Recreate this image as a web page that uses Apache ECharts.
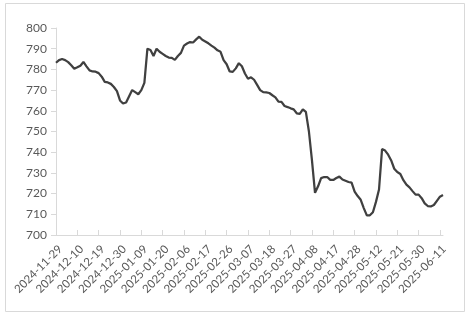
<!DOCTYPE html>
<html>
<head>
<meta charset="utf-8">
<script src="https://cdn.jsdelivr.net/npm/echarts@6/dist/echarts.min.js"></script>
<style>
html,body{margin:0;padding:0;background:#fff;}
#chart{width:470px;height:321px;}
</style>
</head>
<body>
<div id="chart"></div>
<script>
const dates = [
  "2024-11-29",
  "2024-12-02","2024-12-03","2024-12-04","2024-12-05","2024-12-06","2024-12-09","2024-12-10",
  "2024-12-11","2024-12-12","2024-12-13","2024-12-16","2024-12-17","2024-12-18","2024-12-19",
  "2024-12-20","2024-12-23","2024-12-24","2024-12-25","2024-12-26","2024-12-27","2024-12-30",
  "2024-12-31","2025-01-02","2025-01-03","2025-01-06","2025-01-07","2025-01-08","2025-01-09",
  "2025-01-10","2025-01-13","2025-01-14","2025-01-15","2025-01-16","2025-01-17","2025-01-20",
  "2025-01-21","2025-01-22","2025-01-23","2025-01-24","2025-01-27","2025-02-05","2025-02-06",
  "2025-02-07","2025-02-10","2025-02-11","2025-02-12","2025-02-13","2025-02-14","2025-02-17",
  "2025-02-18","2025-02-19","2025-02-20","2025-02-21","2025-02-24","2025-02-25","2025-02-26",
  "2025-02-27","2025-02-28","2025-03-03","2025-03-04","2025-03-05","2025-03-06","2025-03-07",
  "2025-03-10","2025-03-11","2025-03-12","2025-03-13","2025-03-14","2025-03-17","2025-03-18",
  "2025-03-19","2025-03-20","2025-03-21","2025-03-24","2025-03-25","2025-03-26","2025-03-27",
  "2025-03-28","2025-03-31","2025-04-01","2025-04-02","2025-04-03","2025-04-07","2025-04-08",
  "2025-04-09","2025-04-10","2025-04-11","2025-04-14","2025-04-15","2025-04-16","2025-04-17",
  "2025-04-18","2025-04-21","2025-04-22","2025-04-23","2025-04-24","2025-04-25","2025-04-28",
  "2025-04-29","2025-04-30","2025-05-06","2025-05-07","2025-05-08","2025-05-09","2025-05-12",
  "2025-05-13","2025-05-14","2025-05-15","2025-05-16","2025-05-19","2025-05-20","2025-05-21",
  "2025-05-22","2025-05-23","2025-05-26","2025-05-27","2025-05-28","2025-05-29","2025-05-30",
  "2025-06-03","2025-06-04","2025-06-05","2025-06-06","2025-06-09","2025-06-10","2025-06-11",
  "2025-06-12"
];

const values = [
  783.2,
  784.5, 785.0, 784.5, 783.5, 782.0, 780.3, 781.0,
  781.8, 783.6, 781.5, 779.5, 779.0, 778.9, 778.2,
  776.5, 774.0, 773.7, 773.0, 771.5, 769.5, 765.0,
  763.5, 764.0, 767.0, 770.0, 769.0, 768.0, 770.0,
  773.5, 790.0, 789.4, 786.5, 790.0, 788.5, 787.5,
  786.5, 785.7, 785.6, 784.6, 786.5, 788.0, 791.5,
  792.5, 793.2, 793.0, 794.5, 795.8, 794.3, 793.5,
  792.6, 791.5, 790.5, 789.2, 788.5, 784.5, 782.5,
  779.0, 778.8, 780.5, 783.0, 781.5, 778.0, 775.5,
  776.2, 775.0, 772.5, 770.0, 769.0, 768.9, 768.6,
  767.5, 766.5, 764.4, 764.3, 762.3, 761.8, 761.2,
  760.7, 758.8, 758.5, 760.7, 759.5, 750.0, 736.0,
  720.4, 723.5, 727.5, 728.0, 728.0, 726.6, 726.6,
  727.5, 728.2, 726.8, 726.2, 725.6, 725.3, 721.0,
  718.8, 717.0, 713.0, 709.5, 709.5, 711.0, 716.0,
  722.0, 741.5, 740.8, 738.8, 736.0, 732.0, 730.4,
  729.5, 726.5, 724.3, 723.0, 721.2, 719.5, 719.5,
  717.8, 715.3, 714.0, 713.8, 714.5, 716.5, 718.5,
  719.3
];

const yMin = 700, yMax = 800, yStep = 10;

const chart = echarts.init(document.getElementById('chart'), null, {renderer: 'canvas'});
const fontFam = 'Lato, "Liberation Sans", sans-serif';
chart.setOption({
  animation: false,
  backgroundColor: '#ffffff',
  graphic: [{
    type: 'rect',
    shape: {x: 5.5, y: 3.5, width: 459, height: 308},
    style: {fill: 'none', stroke: '#d9d9d9', lineWidth: 1},
    silent: true
  }],
  grid: {left: 56, right: 27, top: 28, bottom: 86, containLabel: false},
  xAxis: {
    type: 'category',
    data: dates,
    boundaryGap: false,
    axisLine: {show: true, lineStyle: {color: '#d9d9d9', width: 1}},
    axisTick: {show: true, interval: 6, inside: true, length: 5, lineStyle: {color: '#d9d9d9'}},
    axisLabel: {interval: 6, rotate: 45, fontSize: 11.5, color: '#595959', fontFamily: fontFam, margin: 8, verticalAlign: 'top', hideOverlap: false},
    splitLine: {show: false}
  },
  yAxis: {
    type: 'value',
    min: yMin, max: yMax, interval: yStep,
    axisLine: {show: true, lineStyle: {color: '#d9d9d9', width: 1}},
    axisTick: {show: true, length: 5, lineStyle: {color: '#d9d9d9'}},
    axisLabel: {fontSize: 12, color: '#595959', fontFamily: fontFam, margin: 9},
    splitLine: {show: false}
  },
  series: [{
    type: 'line',
    data: values,
    showSymbol: false,
    symbol: 'none',
    lineStyle: {color: '#404040', width: 2.25},
    itemStyle: {color: '#404040'}
  }]
});
</script>
</body>
</html>
